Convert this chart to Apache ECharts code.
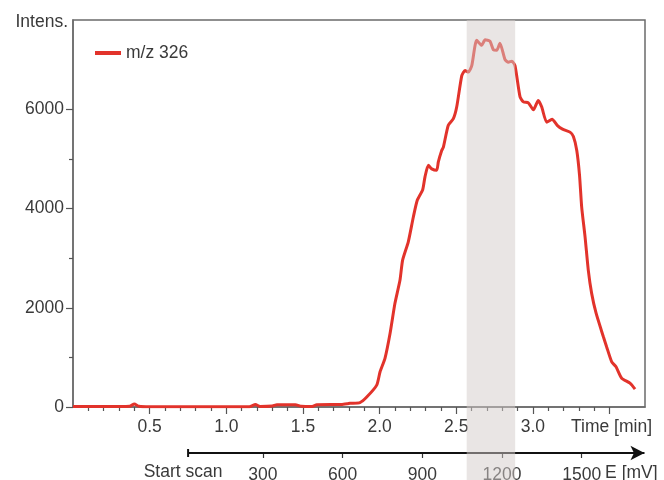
<!DOCTYPE html>
<html>
<head>
<meta charset="utf-8">
<script src="https://cdn.jsdelivr.net/npm/echarts@6/dist/echarts.min.js"></script>
<style>html,body{margin:0;padding:0;background:#fff}#c{width:664px;height:480px}</style>
</head>
<body>
<div id="c"></div>
<script>
// ---- data ----
const seriesName = 'm/z 326';
const timeMin = [0, 0.30, 0.37, 0.40, 0.43, 0.50, 0.80, 1.15, 1.19, 1.22, 1.30, 1.33, 1.45, 1.49, 1.56, 1.59, 1.75, 1.79,
  1.807, 1.872, 1.916, 1.981, 2.003, 2.035, 2.068, 2.100, 2.133, 2.150, 2.187, 2.220, 2.246, 2.281, 2.296, 2.318, 2.340,
  2.372, 2.383, 2.405, 2.416, 2.448, 2.481, 2.503, 2.536, 2.557, 2.579, 2.601, 2.633, 2.666, 2.688, 2.720, 2.742, 2.764,
  2.785, 2.818, 2.840, 2.862, 2.883, 2.916, 2.938, 2.970, 3.003, 3.035, 3.057, 3.090, 3.125, 3.160, 3.193, 3.242, 3.264,
  3.286, 3.304, 3.318, 3.340, 3.361, 3.383, 3.412, 3.459, 3.481, 3.514, 3.542, 3.579, 3.633, 3.666];
const intensity = [10, 10, 15, 60, 15, 5, 5, 5, 50, 10, 20, 45, 45, 15, 10, 45, 50, 65,
  75, 90, 200, 440, 710, 980, 1480, 2090, 2560, 2960, 3330, 3830, 4170, 4380, 4640, 4870, 4800,
  4770, 4940, 5170, 5240, 5680, 5810, 6050, 6680, 6780, 6750, 6880, 7390, 7290, 7400, 7370, 7200, 7190,
  7330, 7000, 6950, 6970, 6880, 6250, 6150, 6130, 5990, 6180, 6050, 5740, 5800, 5670, 5600, 5540, 5450,
  5170, 4670, 4030, 3430, 2760, 2290, 1890, 1420, 1210, 910, 810, 580, 480, 360];
const timeLabels = [0.5, 1.0, 1.5, 2.0, 2.5, 3.0];
const timeMajorTicks = [0.5, 1.0, 1.5, 2.0, 2.5, 3.0, 3.5];
const timeMinorTicks = [0.1,0.2,0.3,0.4,0.6,0.7,0.8,0.9,1.1,1.2,1.3,1.4,1.6,1.7,1.8,1.9,2.1,2.2,2.3,2.4,2.6,2.7,2.8,2.9,3.1,3.2,3.3,3.4];
const intensLabels = [0, 2000, 4000, 6000];
const intensMinorTicks = [1000, 3000, 5000];
const potentialLabels = [0, 300, 600, 900, 1200, 1500];
const potentialTicks = [300, 600, 900, 1200, 1500];
const scanStart = 19, scanEnd = 1736;
const band = [2.568, 2.884];

// ---- layout ----
const TMAX = 3.731, YMAX = 7800, EMIN = -414, EMAX = 1738;
const font = 'Liberation Sans, Arial, sans-serif';
const txt = '#3a3a3a', axc = '#6b6b6b';
const lab = {fontSize: 17.5, color: txt, fontFamily: font};

const chart = echarts.init(document.getElementById('c'), null, {renderer: 'canvas'});
chart.setOption({
  animation: false,
  backgroundColor: '#fff',
  legend: {
    data: [seriesName], left: 90, top: 39, icon: 'rect', itemWidth: 26, itemHeight: 4, itemGap: 4,
    textStyle: Object.assign({}, lab)
  },
  grid: [
    {left: 73, right: 19, top: 20, bottom: 73, outerBoundsMode: 'none', containLabel: false,
     show: true, borderColor: axc, borderWidth: 1.5, backgroundColor: 'transparent'},
    {left: 73, right: 19, top: 20, bottom: 73, outerBoundsMode: 'none', containLabel: false},
    {left: 73, right: 19, top: 433, height: 20, outerBoundsMode: 'none', containLabel: false},
    {left: 73, right: 19, top: 20, bottom: 0, outerBoundsMode: 'none', containLabel: false}
  ],
  xAxis: [
    {gridIndex: 0, type: 'value', min: 0, max: TMAX, splitLine: {show: false},
     axisLine: {lineStyle: {color: axc, width: 1.5}},
     axisTick: {customValues: timeMajorTicks, length: 7, lineStyle: {color: '#555', width: 1.2}},
     axisLabel: Object.assign({customValues: timeLabels, margin: 11, formatter: v => v.toFixed(1)}, lab),
     name: 'Time [min]', nameLocation: 'end', nameGap: 7,
     nameTextStyle: Object.assign({align: 'right', verticalAlign: 'top', padding: [11, 0, 0, 0]}, lab)},
    {gridIndex: 1, type: 'value', min: 0, max: TMAX, splitLine: {show: false},
     axisLine: {show: false}, axisLabel: {show: false},
     axisTick: {customValues: timeMinorTicks, length: 4, lineStyle: {color: '#555', width: 1.2}}},
    {gridIndex: 2, type: 'value', min: EMIN, max: EMAX, splitLine: {show: false},
     axisLine: {show: false, onZero: false},
     axisTick: {customValues: potentialTicks, length: 5, lineStyle: {color: '#333', width: 1.2}},
     axisLabel: Object.assign({customValues: potentialLabels, margin: 10,
       formatter: v => (v === 0 ? '{s|Start scan}' : '{n|' + v + '}'),
       rich: {s: {fontSize: 17.5, color: txt, fontFamily: font, padding: [0, 0, 3, 0]},
              n: {fontSize: 17.5, color: txt, fontFamily: font, padding: [3, 0, 0, 0]}}}, lab),
     name: 'E [mV]', nameLocation: 'end', nameGap: -60,
     nameTextStyle: Object.assign({align: 'left', verticalAlign: 'top', padding: [11, 0, 0, 0]}, lab)},
    {gridIndex: 3, type: 'value', min: 0, max: TMAX, show: false}
  ],
  yAxis: [
    {gridIndex: 0, type: 'value', min: 0, max: YMAX, splitLine: {show: false},
     axisLine: {show: true, lineStyle: {color: axc, width: 1.5}},
     axisTick: {show: true, customValues: intensLabels, length: 7, lineStyle: {color: '#555', width: 1.2}},
     axisLabel: Object.assign({customValues: intensLabels, margin: 9, formatter: v => String(v)}, lab),
     name: 'Intens.', nameLocation: 'end', nameGap: -2,
     nameTextStyle: Object.assign({align: 'right', verticalAlign: 'middle', padding: [0, 5, 0, 0]}, lab)},
    {gridIndex: 1, type: 'value', min: 0, max: YMAX, splitLine: {show: false},
     axisLine: {show: false}, axisLabel: {show: false},
     axisTick: {show: true, customValues: intensMinorTicks, length: 4, lineStyle: {color: '#555', width: 1.2}}},
    {gridIndex: 2, type: 'value', min: 0, max: 1, show: false},
    {gridIndex: 3, type: 'value', min: 0, max: 1, show: false}
  ],
  series: [
    {name: seriesName, type: 'line', xAxisIndex: 0, yAxisIndex: 0, showSymbol: false, smooth: 0.2,
     color: '#e2332b', lineStyle: {color: '#e2332b', width: 3},
     data: timeMin.map((t, i) => [t, intensity[i]])},
    {type: 'line', xAxisIndex: 2, yAxisIndex: 2, data: [], silent: true,
     markLine: {silent: true, animation: false, label: {show: false},
       lineStyle: {color: '#111', width: 2, type: 'solid'},
       data: [[{coord: [scanStart, 0], symbol: 'rect', symbolSize: [8, 2]},
               {coord: [scanEnd, 0], symbol: 'arrow', symbolSize: [11, 14]}]]}},
    {type: 'line', xAxisIndex: 3, yAxisIndex: 3, data: [], silent: true, z: 10,
     markArea: {silent: true, z: 10, itemStyle: {color: 'rgba(212,204,202,0.5)'},
       data: [[{xAxis: band[0]}, {xAxis: band[1]}]]}}
  ]
});
</script>
</body>
</html>
